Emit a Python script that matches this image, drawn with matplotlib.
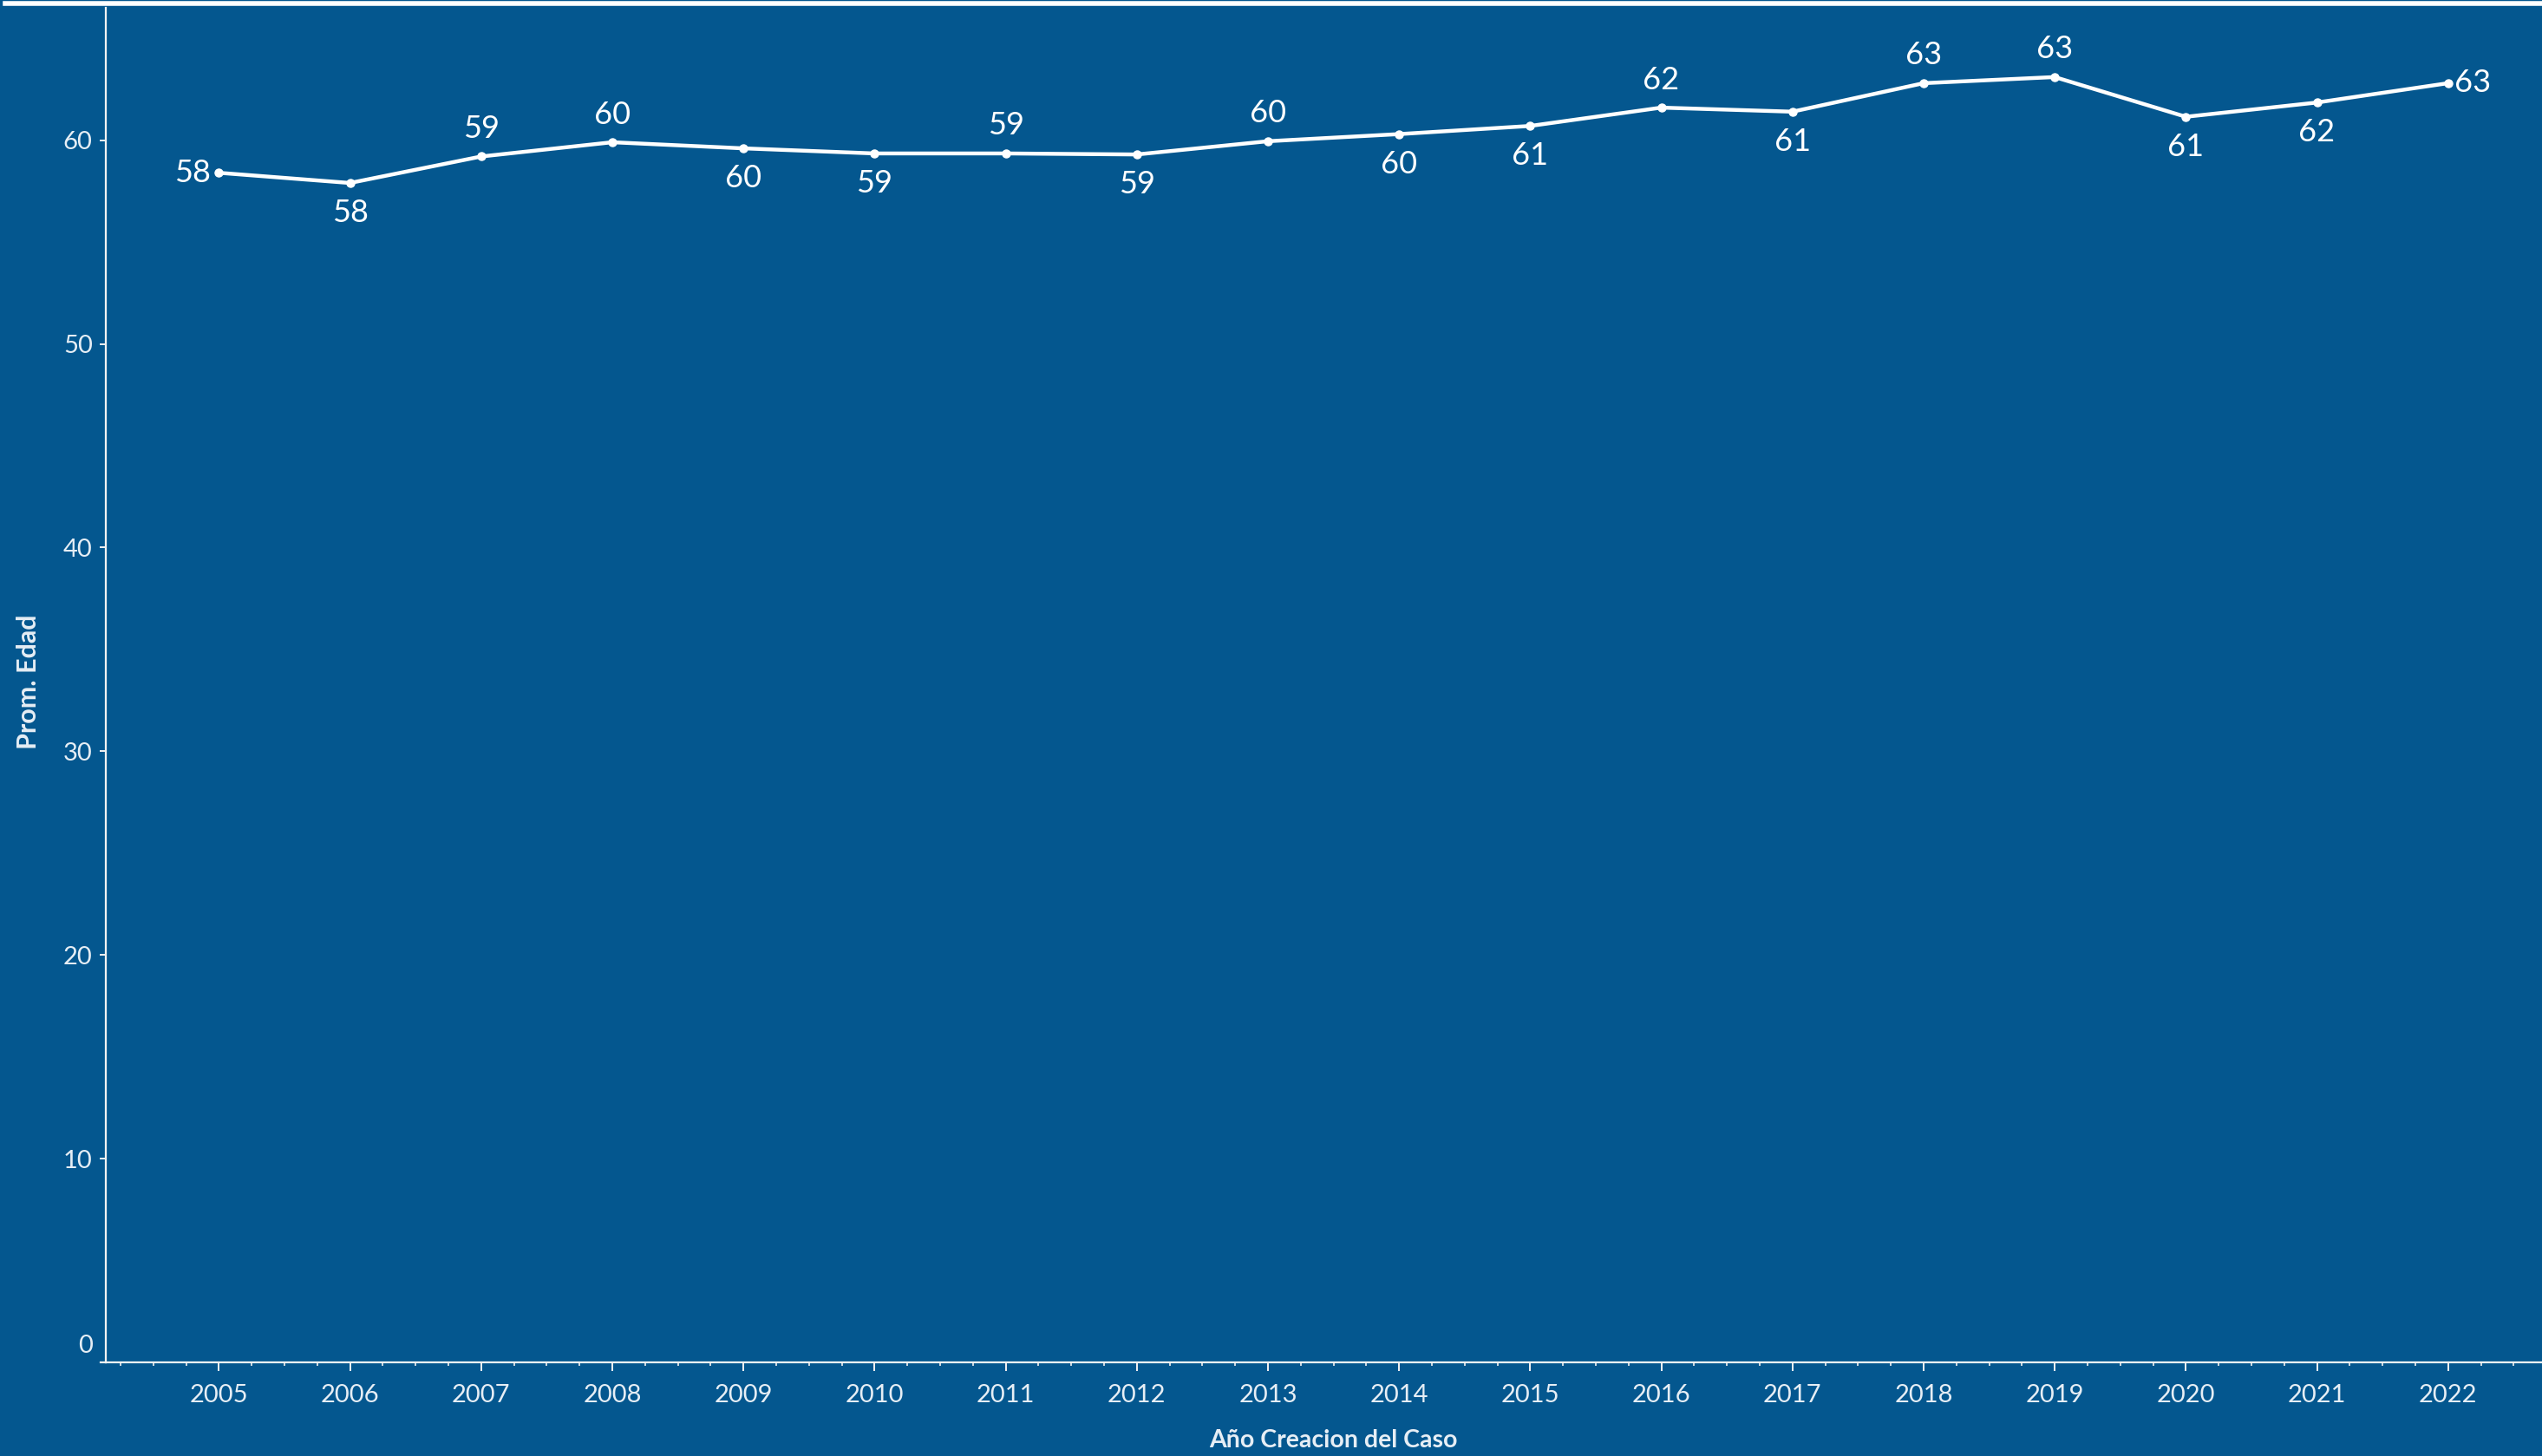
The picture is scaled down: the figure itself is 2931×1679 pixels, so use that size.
import matplotlib
matplotlib.use("Agg")
import matplotlib.pyplot as plt
from matplotlib.lines import Line2D
from matplotlib.ticker import MultipleLocator
import matplotlib.transforms as mtransforms

years = [2005, 2006, 2007, 2008, 2009, 2010, 2011, 2012, 2013,
         2014, 2015, 2016, 2017, 2018, 2019, 2020, 2021, 2022]
avg_age = [58.4, 57.9, 59.2, 59.9, 59.6, 59.35, 59.35, 59.3, 59.95,
           60.3, 60.7, 61.6, 61.4, 62.8, 63.1, 61.15, 61.85, 62.8]
labels = ["58", "58", "59", "60", "60", "59", "59", "59", "60",
          "60", "61", "62", "61", "63", "63", "61", "62", "63"]
placement = ["left", "below", "above", "above", "below", "below", "above", "below", "above",
             "below", "below", "above", "below", "above", "above", "below", "below", "right"]
y_ticks = [0, 10, 20, 30, 40, 50, 60]

BG = "#04578F"
FG = "#E6EEF5"
LINE = "#F2F2F2"

W, H = 2931, 1679
AX_L, AX_B, AX_T = 122, 1571, 9
AW, AH = W - AX_L, AX_B - AX_T
fig = plt.figure(figsize=(W / 100, H / 100), dpi=100, facecolor=BG)
ax = fig.add_axes([AX_L / W, 1 - AX_B / H, AW / W, AH / H])
ax.set_facecolor(BG)

fam = ["Lato", "DejaVu Sans"]

ax.plot(years, avg_age, color="white", lw=3.2, marker="o", ms=6.5, mec="white", mfc="white", zorder=3)

for x, y, lab, pl in zip(years, avg_age, labels, placement):
    if pl == "above":
        off, ha, va = (0, 23), "center", "center"
    elif pl == "below":
        off, ha, va = (0, -25), "center", "center"
    elif pl == "left":
        off, ha, va = (-7, 0), "right", "center"
    else:
        off, ha, va = (5, 0), "left", "center"
    ax.annotate(lab, (x, y), xytext=off, textcoords="offset points", ha=ha, va=va,
                color="white", fontsize=26, family=fam)

ax.set_xlim(2004.138, 2022.716)
ax.set_ylim(0, 66.5)
ax.set_xticks(years)
ax.set_xticklabels([str(y) for y in years])
ax.xaxis.set_minor_locator(MultipleLocator(0.25))
ax.set_yticks(y_ticks)
ax.set_yticklabels([str(v) for v in y_ticks])

for s in ["top", "right"]:
    ax.spines[s].set_visible(False)
for s in ["left", "bottom"]:
    ax.spines[s].set_color(LINE)
    ax.spines[s].set_linewidth(1.6)

ax.tick_params(axis="x", which="major", length=7, width=1.4, color=LINE, pad=11,
               labelsize=21, labelcolor=FG)
ax.tick_params(axis="x", which="minor", length=3, width=1.2, color=LINE)
ax.tick_params(axis="y", which="major", length=5, width=1.4, color=LINE, pad=6,
               labelsize=21, labelcolor=FG)
for t in ax.get_xticklabels() + ax.get_yticklabels():
    t.set_family(fam)

# raise the "0" label as in the reference
zero_lab = ax.get_yticklabels()[0]
zero_lab.set_transform(zero_lab.get_transform() + mtransforms.ScaledTranslation(0, 21 / 100, fig.dpi_scale_trans))

ax.set_xlabel("Año Creacion del Caso", color=FG, fontsize=20.5, fontweight="bold", family=fam)
ax.set_ylabel("Prom. Edad", color=FG, fontsize=22, fontweight="bold", family=fam)
ax.xaxis.set_label_coords((1537 - AX_L) / AW, -(1648 - AX_B) / AH)
ax.yaxis.set_label_coords(-(AX_L - 47) / AW, (AX_B - 786) / AH)

# extend x axis line slightly left of the y axis
ax.add_line(Line2D([-6 / AW, 0], [0, 0], transform=ax.transAxes, color=LINE, lw=1.6, clip_on=False))

# top white border line
fig.add_artist(Line2D([6 / W, 1], [1 - 4 / H, 1 - 4 / H], transform=fig.transFigure, color="white", lw=4))

fig.savefig("out.png", dpi=100, facecolor=BG)
